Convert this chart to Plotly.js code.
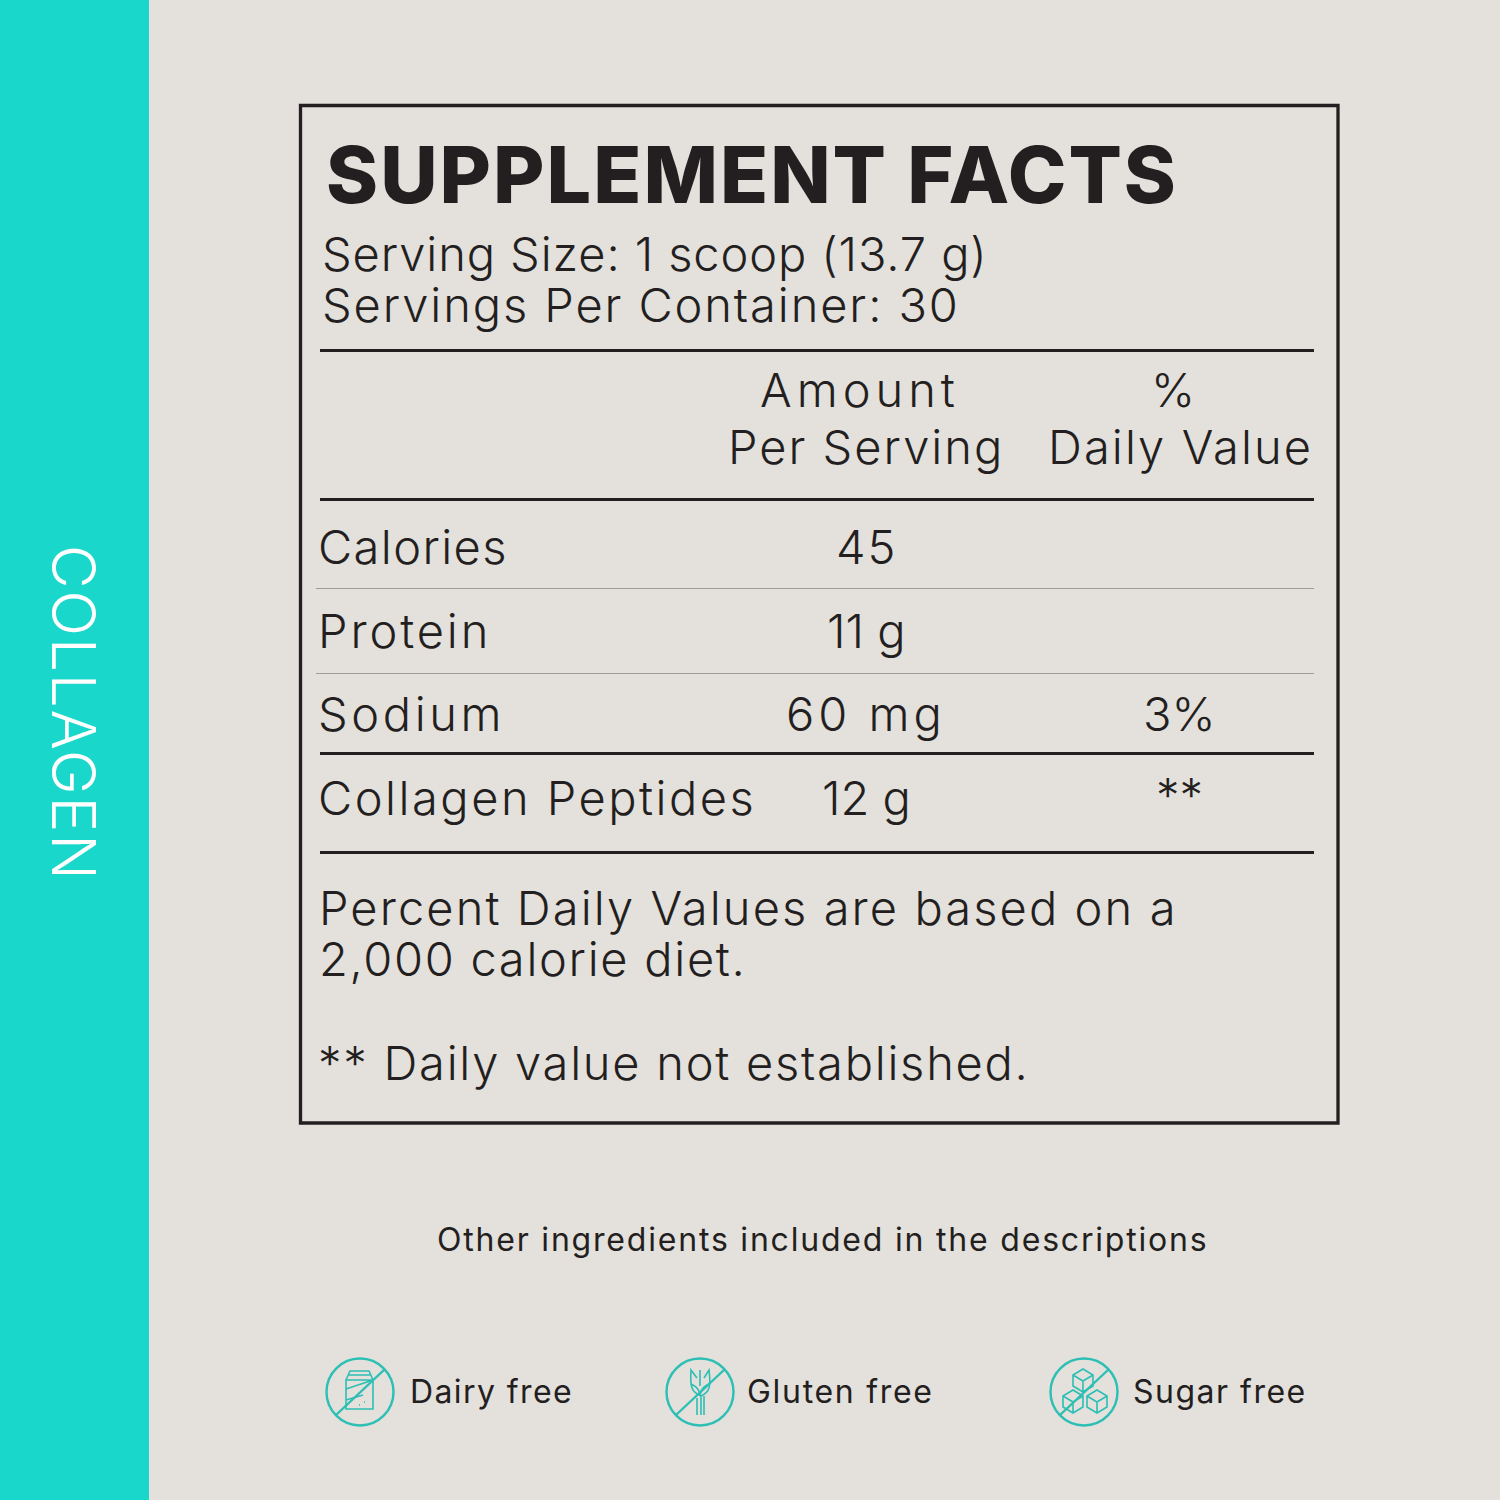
<!DOCTYPE html>
<html><head><meta charset="utf-8">
<script src="https://cdn.plot.ly/plotly-3.0.1.min.js"></script>
<style>html,body{margin:0;padding:0;background:#e4e0dc}</style></head>
<body><div id="chart" style="width:1500px;height:1500px"></div>
<script>
const nutrients = ["Calories","Protein","Sodium","Collagen Peptides"];
const amounts = ["45","11 g","60 mg","12 g"];
const dailyValues = ["","","3%","**"];
const servingLines = ["Serving Size: 1 scoop (13.7 g)","Servings Per Container: 30"];
const noteLines = ["Percent Daily Values are based on a","2,000 calorie diet.","** Daily value not established."];
const badges = ["Dairy free","Gluten free","Sugar free"];

const FONT="Inter", INK="#231f20", TEAL="#2cbfb4";
const rowY=[546,630,713,797], amountX=866, dvX=1179;
const nutrientGaps=[1.4,2.9,3.6,2.5], amountGaps=[2,0,4,0];
const anns=[];
function T(text,x,y,size,o={}){
  const t=o.ls?`<span style="letter-spacing:${o.ls}px">${text}</span>`:text;
  anns.push({text:t,x,y,xref:"x",yref:"y",showarrow:false,xanchor:o.a||"left",yanchor:"middle",
  textangle:o.rot||0,font:{family:FONT,size,color:o.c||INK,weight:o.w||300}});}
T("SUPPLEMENT FACTS",324,174,79,{w:800,ls:2});
T(servingLines[0],320,253,47,{ls:0.9}); T(servingLines[1],320,304,47,{ls:1.9});
T("Amount",860,389,47,{a:"center",ls:5}); T("Per Serving",866,446,47,{a:"center",ls:2});
T("%",1173,389,47,{a:"center"}); T("Daily Value",1180,446,47,{a:"center",ls:2.1});
nutrients.forEach((n,i)=>{T(n,316,rowY[i],47,{ls:nutrientGaps[i]});T(amounts[i],amountX,rowY[i],47,{a:"center",ls:amountGaps[i]});
  if(dailyValues[i])T(dailyValues[i],dvX,rowY[i]-(dailyValues[i]==="**"?3:0),47,{a:"center"});});
T(noteLines[0],317,907,47,{ls:2.1});T(noteLines[1],317,958,47,{ls:1.7});T(noteLines[2],316,1062,47,{ls:1.75});
T("Other ingredients included in the descriptions",822,1239,32,{a:"center",w:400,ls:1.8});
T(badges[0],408,1391,32,{w:400,ls:1.4});T(badges[1],745,1391,32,{w:400,ls:1.7});T(badges[2],1131,1391,32,{w:400,ls:1.5});
T("COLLAGEN",74,713,60,{a:"center",rot:90,c:"#ffffff",ls:1.9,w:300});

const shapes=[];
shapes.push({type:"rect",x0:0,x1:149,y0:0,y1:1500,fillcolor:"#19d7ca",line:{width:0},layer:"below"});
shapes.push({type:"rect",x0:300.5,x1:1338,y0:105.5,y1:1123,line:{color:INK,width:3.3},layer:"below"});
[[350.5,3.2,INK],[499.5,3.2,INK],[588.5,1,"#9d9a97"],[673.5,1,"#9d9a97"],[753.5,3.2,INK],[852.5,3.2,INK]].forEach(([y,w,c])=>{
  shapes.push({type:"line",x0:c===INK?320:316,x1:1314,y0:y,y1:y,line:{color:c,width:w}});});
function P(cx,cy,d,w){ // numbers in d are offsets from the icon centre
  let isX=true;
  const path=d.replace(/-?\d+(\.\d+)?/g,m=>{const v=+m+(isX?cx:cy);isX=!isX;return v;});
  shapes.push({type:"path",path,line:{color:TEAL,width:w||1.6}});
}
function ring(cx,cy){shapes.push({type:"circle",x0:cx-33.5,x1:cx+33.5,y0:cy-33.5,y1:cy+33.5,line:{color:TEAL,width:2.4}});
  P(cx,cy,"M-24 23 L25 -23",2.4);}
ring(360,1392);
P(360,1392,"M-14 -12 L-14 17 L13 17 L13 -12 Z M-14 -12 L-10 -21 L9 -21 L13 -12 M-12 -17 L11 -17 M-14 -3 L13 -12 M-14 8 L3 3 M4 10 L5 10 M-1 13 L0 13");
ring(700,1392);
P(700,1392,"M-3 6 L-3 23 M1 4 L1 23 M4 4 L4 23 M1 4 C-9 0 -10 -6 -9 -22 L-3 -14 M1 4 C10 0 11 -6 9 -22 L4 -14 M0 -22 L0 -6 M-9 -8 C-5 -6 -1 -4 0 3 M9 -8 C5 -6 1 -4 0 3");
ring(1084,1392);
const cube="M0 -11 L10 -5 L10 6 L0 12 L-10 6 L-10 -5 Z M-10 -5 L0 1 L10 -5 M0 1 L0 12";
[[1083,1380],[1073,1401],[1097,1401]].forEach(([x,y])=>P(x,y,cube));

const ax={range:[0,1500],visible:false,fixedrange:true};
Plotly.newPlot("chart",[{x:[0],y:[0],mode:"markers",marker:{opacity:0},hoverinfo:"skip",showlegend:false}],{
  width:1500,height:1500,margin:{l:0,r:0,t:0,b:0},paper_bgcolor:"#e4e0dc",plot_bgcolor:"#e4e0dc",
  xaxis:{...ax},yaxis:{...ax,range:[1500,0]},shapes,annotations:anns,showlegend:false
},{staticPlot:true,displayModeBar:false});
</script></body></html>
